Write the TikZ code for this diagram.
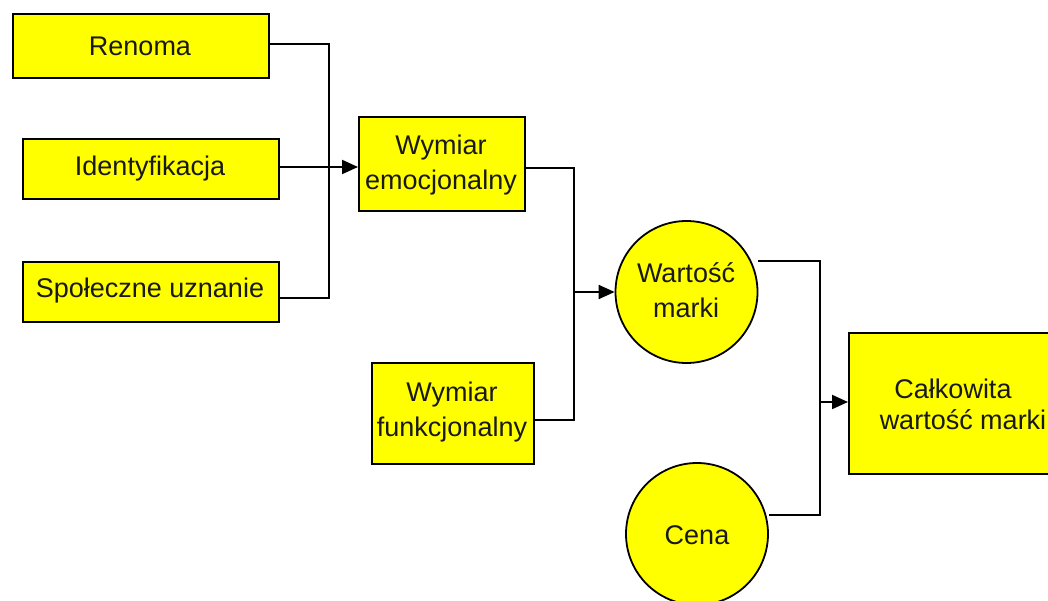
\documentclass[tikz,border=0pt]{standalone}
\usepackage{fontspec}
\setmainfont{Liberation Sans}
\usetikzlibrary{arrows.meta}
\definecolor{boxyellow}{RGB}{255,255,0}
\tikzset{
  box/.style={draw=black, line width=1.8pt, fill=boxyellow, inner sep=0pt, anchor=north west},
  circ/.style={draw=black, line width=1.8pt, fill=boxyellow, circle, inner sep=0pt},
  lbl/.style={font=\fontsize{27}{35}\selectfont, align=center, text=black!90},
  conn/.style={draw=black, line width=2pt},
  arr/.style={conn, -{Triangle[length=16pt,width=14pt]}},
}
\begin{document}
\begin{tikzpicture}[x=1pt,y=-1pt]
\useasboundingbox (0,0) rectangle (1048,601);
\begin{scope}
\clip (0,0) rectangle (1048,601);
% boxes
\node[box, minimum width=256pt, minimum height=64pt] (ren) at (12,13) {};
\node[box, minimum width=256pt, minimum height=60pt] (ide) at (22,138) {};
\node[box, minimum width=256pt, minimum height=60pt] (spo) at (22,261) {};
\node[box, minimum width=166pt, minimum height=94pt] (emo) at (358,116) {};
\node[box, minimum width=162pt, minimum height=101pt] (fun) at (371,362) {};
\node[box, minimum width=215pt, minimum height=141pt] (cal) at (848,332) {};
\node[circ, minimum size=142pt] (war) at (686.5,292) {};
\node[circ, minimum size=142pt] (cen) at (697,534) {};
% labels
\node[lbl] (tren) at (140,46) {Renoma};
\node[lbl] (tide) at (150,169) {Identyfikacja};
\node[lbl] (tspo) at (150,291) {Społeczne uznanie};
\node[lbl] (temo) at (441,165) {Wymiar\\emocjonalny};
\node[lbl] (tfun) at (452,412) {Wymiar\\funkcjonalny};
\node[lbl] (twar) at (686,290) {Wartość\\marki};
\node[lbl] (tcen) at (697,535) {Cena};
\node[lbl] (tcal1) at (953,389) {Całkowita};
\node[lbl] (tcal2) at (963,420) {wartość marki};
\end{scope}
% junction coordinates
\coordinate (j1) at (329,44);
\coordinate (j2) at (329,298);
\coordinate (j3) at (574,168);
\coordinate (j4) at (574,420);
\coordinate (j5) at (820,261);
\coordinate (j6) at (820,515);
\coordinate (wo) at (758,261);
% connectors
\draw[conn] (ren.east |- j1) -- (j1) -- (j2) -- (spo.east |- j2);
\draw[arr] (ide.east |- 0,167) -- (emo.west |- 0,167);
\draw[conn] (emo.east |- j3) -- (j3) -- (j4) -- (fun.east |- j4);
\draw[arr] (war.west -| j3) -- (war.west);
\draw[conn] (wo) -- (j5) -- (j6) -- (cen.east |- j6);
\draw[arr] (820,402) -- (cal.west |- 0,402);
\end{tikzpicture}
\end{document}
